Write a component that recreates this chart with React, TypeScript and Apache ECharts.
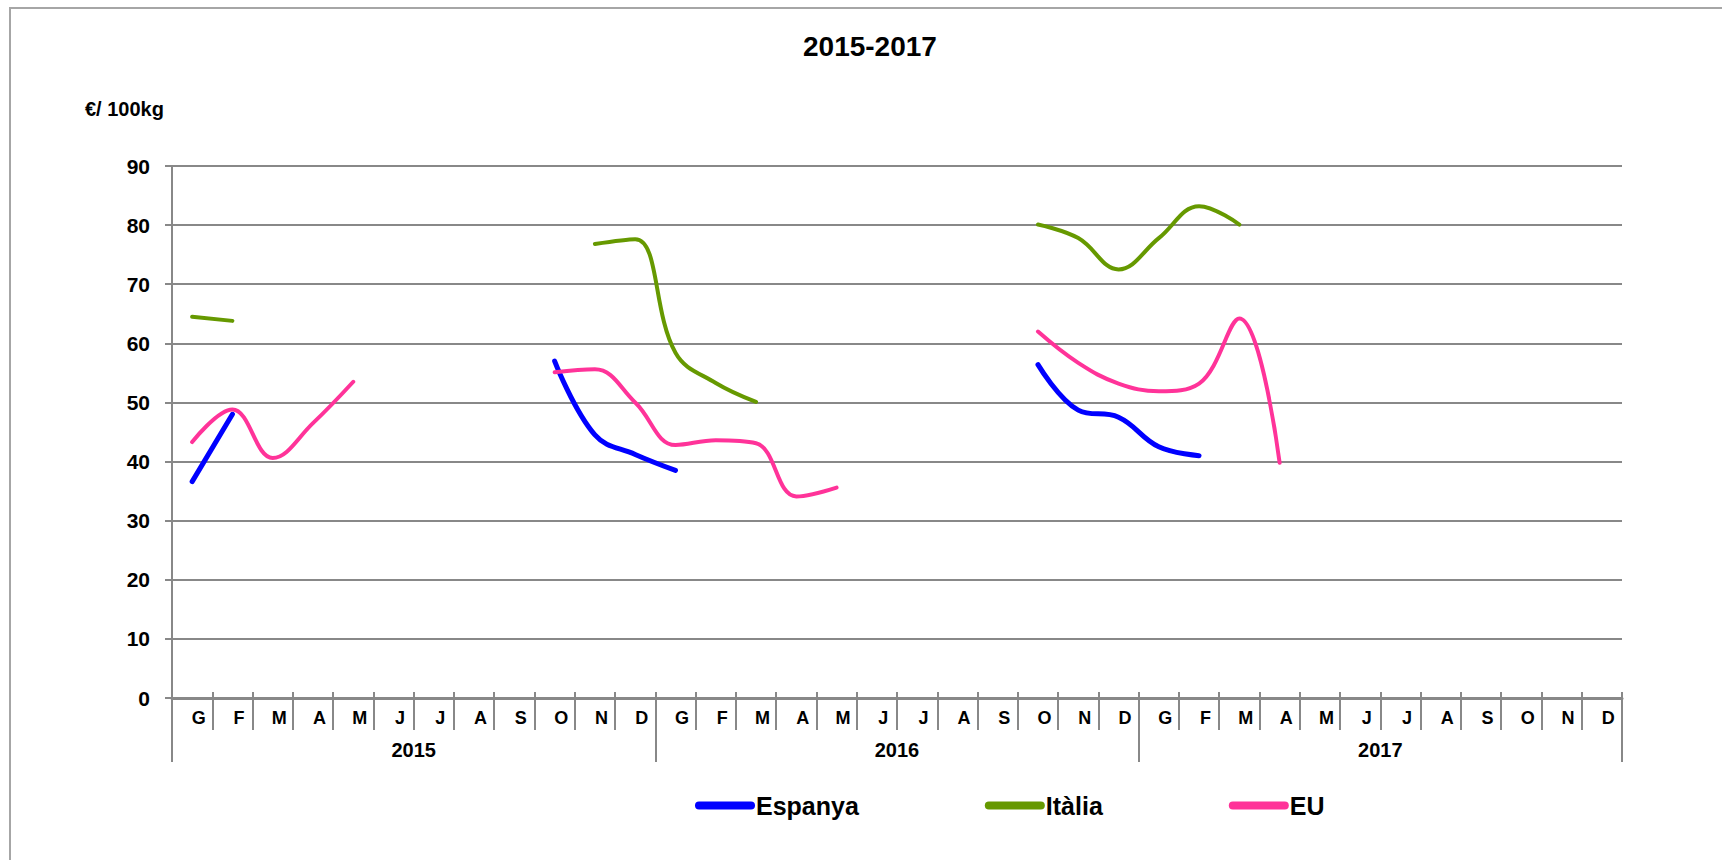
import React, { useEffect, useRef } from "react";
import * as echarts from "echarts";

const monthLetters = ["G", "F", "M", "A", "M", "J", "J", "A", "S", "O", "N", "D"];
const years = ["2015", "2016", "2017"];
const categories = [...monthLetters, ...monthLetters, ...monthLetters];

const espanya = [
  36.6, 48.0, null, null, null, null, null, null, null, 57.0, 44.5, 41.2,
  38.5, null, null, null, null, null, null, null, null, 56.4, 48.7, 47.5,
  42.5, 41.0, null, null, null, null, null, null, null, null, null, null,
];
const italia = [
  64.5, 63.8, null, null, null, null, null, null, null, null, 76.8, 77.6,
  58.4, 53.3, 50.1, null, null, null, null, null, null, 80.1, 77.8, 72.5,
  77.8, 83.2, 80.1, null, null, null, null, null, null, null, null, null,
];
const eu = [
  43.3, 48.8, 40.6, 46.5, 53.5, null, null, null, null, 55.1, 55.6, 50.0,
  42.8, 43.6, 43.1, 34.1, 35.6, null, null, null, null, 62.0, 56.7, 53.2,
  51.9, 53.2, 64.2, 39.8, null, null, null, null, null, null, null, null,
];

const FONT = "'Liberation Sans', Arial, sans-serif";
const GRID_COLOR = "#888888";
const SMOOTH = 0.4;

export default function App() {
  const ref = useRef<HTMLDivElement>(null);
  useEffect(() => {
    if (!ref.current) return;
    const chart = echarts.init(ref.current, undefined, { renderer: "svg" });
    const legendIcon = "path://M4,0 L56,0 A4,4 0 0 1 56,8 L4,8 A4,4 0 0 1 4,0 Z";
    chart.setOption({
      animation: false,
      backgroundColor: "#ffffff",
      textStyle: { fontFamily: FONT },
      title: [
        {
          text: "2015-2017",
          left: 803,
          top: 32,
          padding: 0,
          textStyle: { fontSize: 28, fontWeight: "bold", color: "#000", fontFamily: FONT },
        },
        {
          text: "€/ 100kg",
          left: 85,
          top: 99,
          padding: 0,
          textStyle: { fontSize: 20, fontWeight: "bold", color: "#000", fontFamily: FONT },
        },
      ],
      legend: {
        left: 690,
        top: 788,
        itemGap: 126,
        itemWidth: 60,
        itemHeight: 8,
        icon: legendIcon,
        textStyle: { fontSize: 25, fontWeight: "bold", color: "#000", fontFamily: FONT, padding: [0, 0, 0, -4] },
        data: ["Espanya", "Itàlia", "EU"],
      },
      grid: { left: 172, right: 100, top: 166, bottom: 162 },
      xAxis: [
        {
          type: "category",
          data: categories,
          position: "bottom",
          boundaryGap: true,
          axisLine: { show: true, lineStyle: { color: GRID_COLOR, width: 3 } },
          axisTick: { show: true, interval: 0, length: 32, lineStyle: { color: GRID_COLOR, width: 2 } },
          axisLabel: {
            interval: 0,
            margin: 11,
            fontSize: 18,
            fontWeight: "bold",
            color: "#000",
            fontFamily: FONT,
            padding: [0, 0, 0, 13],
          },
          splitLine: { show: false },
        },
        {
          type: "category",
          data: years,
          position: "bottom",
          boundaryGap: true,
          axisLine: { show: false },
          axisTick: { show: true, interval: 0, length: 64, lineStyle: { color: GRID_COLOR, width: 2 } },
          axisLabel: { interval: 0, margin: 42, fontSize: 20, fontWeight: "bold", color: "#000", fontFamily: FONT },
          splitLine: { show: false },
        },
        {
          type: "category",
          data: categories,
          position: "bottom",
          boundaryGap: true,
          axisLine: { show: false },
          axisTick: { show: true, inside: true, interval: 0, length: 6, lineStyle: { color: GRID_COLOR, width: 2 } },
          axisLabel: { show: false },
          splitLine: { show: false },
        },
      ],
      yAxis: {
        type: "value",
        min: 0,
        max: 90,
        interval: 10,
        axisLine: { show: true, lineStyle: { color: GRID_COLOR, width: 2 } },
        axisTick: { show: true, length: 7, lineStyle: { color: GRID_COLOR, width: 2 } },
        axisLabel: { margin: 22, fontSize: 21, fontWeight: "bold", color: "#000", fontFamily: FONT },
        splitLine: { show: true, lineStyle: { color: GRID_COLOR, width: 2 } },
      },
      series: [
        {
          name: "Espanya",
          type: "line",
          data: espanya,
          smooth: SMOOTH,
          symbol: "none",
          connectNulls: false,
          color: "#0000ff",
          lineStyle: { color: "#0000ff", width: 5, cap: "round", join: "round" },
          z: 3,
        },
        {
          name: "Itàlia",
          type: "line",
          data: italia,
          smooth: SMOOTH,
          symbol: "none",
          connectNulls: false,
          color: "#669900",
          lineStyle: { color: "#669900", width: 4, cap: "round", join: "round" },
          z: 2,
        },
        {
          name: "EU",
          type: "line",
          data: eu,
          smooth: SMOOTH,
          symbol: "none",
          connectNulls: false,
          color: "#ff3399",
          lineStyle: { color: "#ff3399", width: 4, cap: "round", join: "round" },
          z: 4,
        },
      ],
      graphic: [
        {
          type: "rect",
          shape: { x: 10, y: 8, width: 1800, height: 900 },
          style: { fill: "none", stroke: "#a6a6a6", lineWidth: 2 },
          silent: true,
          z: -1,
        },
      ],
    });
    return () => chart.dispose();
  }, []);
  return (
    <div
      ref={ref}
      style={{ position: "absolute", left: 0, top: 0, width: 1722, height: 860, background: "#fff" }}
    />
  );
}
